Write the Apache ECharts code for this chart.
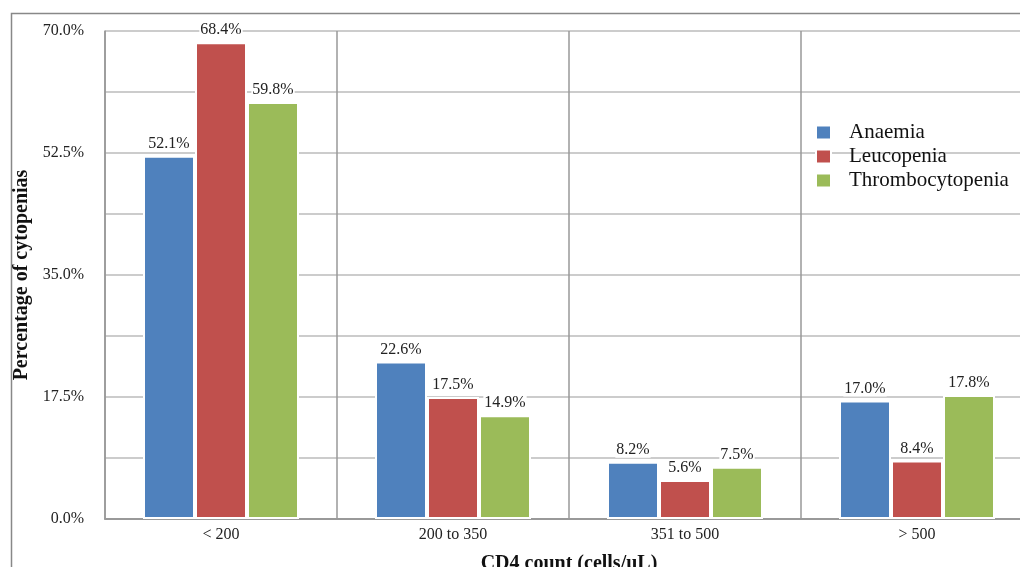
<!DOCTYPE html>
<html>
<head>
<meta charset="utf-8">
<script src="https://cdn.jsdelivr.net/npm/echarts@6/dist/echarts.min.js"></script>
<style>
  html, body { margin: 0; padding: 0; background: #fff; }
  #chart { width: 1020px; height: 567px; }
</style>
</head>
<body>
<div id="chart"></div>
<script>
const categories = ['< 200', '200 to 350', '351 to 500', '> 500'];
const anaemia = [52.1, 22.6, 8.2, 17.0];
const leucopenia = [68.4, 17.5, 5.6, 8.4];
const thrombocytopenia = [59.8, 14.9, 7.5, 17.8];
const seriesNames = ['Anaemia', 'Leucopenia', 'Thrombocytopenia'];
const colors = ['#4F81BD', '#C0504D', '#9BBB59'];

const font = '"Liberation Serif", "DejaVu Serif", serif';

const chart = echarts.init(document.getElementById('chart'));

function makeSeries(name, data, color) {
  return {
    name: name,
    type: 'bar',
    data: data,
    barWidth: 52,
    barGap: '0%',
    itemStyle: { color: color, borderColor: '#fff', borderWidth: 2 },
    label: {
      show: true,
      position: 'top',
      distance: 4,
      formatter: p => p.value.toFixed(1) + '%',
      color: '#222',
      fontFamily: font,
      fontSize: 16,
      backgroundColor: '#fff',
      padding: [0, 1]
    }
  };
}

chart.setOption({
  animation: false,
  color: colors,
  textStyle: { fontFamily: font },
  grid: { left: 105, top: 31, width: 928, height: 488, containLabel: false, outerBoundsMode: 'none' },
  legend: {
    orient: 'vertical',
    left: 815,
    top: 122,
    padding: 0,
    itemWidth: 15,
    itemHeight: 14,
    itemGap: 3,
    icon: 'rect',
    data: seriesNames,
    textStyle: { fontFamily: font, fontSize: 21, lineHeight: 21, color: '#111', padding: [0, 0, 0, 13] }
  },
  graphic: [{
    type: 'polyline',
    shape: { points: [[11.5, 567], [11.5, 13.5], [1020, 13.5]] },
    style: { stroke: '#888', lineWidth: 1.5, fill: null }
  }],
  xAxis: {
    type: 'category',
    data: categories,
    name: 'CD4 count (cells/uL)',
    nameLocation: 'middle',
    nameGap: 35,
    nameTextStyle: { fontFamily: font, fontSize: 20, fontWeight: 'bold', color: '#111' },
    axisLine: { lineStyle: { color: '#999', width: 2 } },
    axisTick: { show: false },
    axisLabel: { fontFamily: font, fontSize: 16, color: '#222', margin: 8 },
    splitLine: { show: true, lineStyle: { color: '#999', width: 1.5 } }
  },
  yAxis: {
    type: 'value',
    min: 0,
    max: 70,
    interval: 8.75,
    name: 'Percentage of cytopenias',
    nameLocation: 'middle',
    nameGap: 73,
    nameTextStyle: { fontFamily: font, fontSize: 20, fontWeight: 'bold', color: '#111' },
    axisLine: { show: true, lineStyle: { color: '#999', width: 1.5 } },
    axisTick: { show: false },
    axisLabel: {
      fontFamily: font,
      fontSize: 16,
      color: '#222',
      margin: 21,
      formatter: v => {
        const r = v / 17.5;
        return Math.abs(r - Math.round(r)) < 1e-6 ? v.toFixed(1) + '%' : '';
      }
    },
    splitLine: { show: true, lineStyle: { color: '#bbb', width: 1.5 } }
  },
  series: [
    makeSeries(seriesNames[0], anaemia, colors[0]),
    makeSeries(seriesNames[1], leucopenia, colors[1]),
    makeSeries(seriesNames[2], thrombocytopenia, colors[2])
  ]
});
</script>
</body>
</html>
